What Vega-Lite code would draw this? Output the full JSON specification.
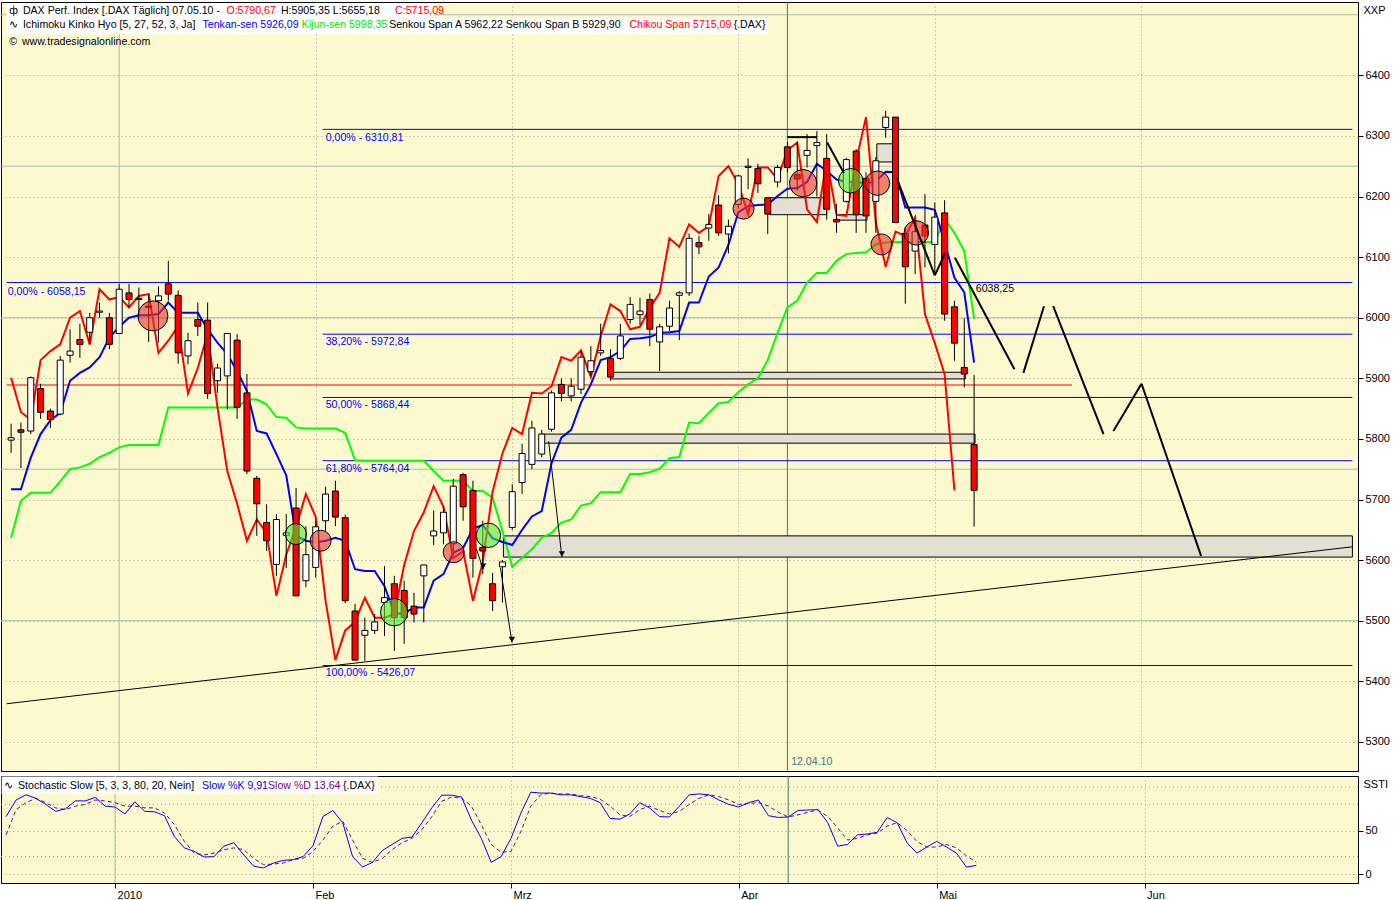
{
"$schema":"https://vega.github.io/schema/vega-lite/v6.json",
"background":"#FFFFFF",
"padding":{"left":0,"top":1,"right":0,"bottom":0},
"spacing":3,
"config":{
 "view":{"fill":"#FDF9CF","stroke":"#000000","strokeWidth":1},
 "text":{"font":"Liberation Sans","fontSize":10.6},
 "axis":{"labelFont":"Liberation Sans","labelFontSize":11,"labelColor":"#000000","tickColor":"#000000","domain":false,"gridColor":"#A0A0A0","gridDash":[1,3],"titleFont":"Liberation Sans","titleFontSize":11,"titleFontWeight":"normal","titleColor":"#000000","minExtent":0,"labelFlush":false,"labelOverlap":false}
},
"datasets":{
 "candles":[
{"i":-11,"o":5798,"h":5825,"l":5777,"c":5802},{"i":-10,"o":5815,"h":5827,"l":5752,"c":5811},{"i":-9,"o":5813,"h":5903,"l":5808,"c":5901},{"i":-8,"o":5883,"h":5891,"l":5833,"c":5844},{"i":-7,"o":5846,"h":5850,"l":5818,"c":5832},{"i":-6,"o":5841,"h":5937,"l":5839,"c":5930},{"i":-5,"o":5938,"h":5981,"l":5926,"c":5945},{"i":-4,"o":5964,"h":5990,"l":5934,"c":5956},{"i":-3,"o":5976,"h":6008,"l":5956,"c":6000},{"i":-2,"o":6009,"h":6025,"l":6000,"c":6011},{"i":-1,"o":6000,"h":6008,"l":5948,"c":5956},
{"i":0,"o":5974,"h":6056,"l":5974,"c":6047},{"i":1,"o":6041,"h":6056,"l":6017,"c":6030},{"i":2,"o":6030,"h":6050,"l":6000,"c":6032},{"i":3,"o":6019,"h":6040,"l":5960,"c":6017},{"i":4,"o":6028,"h":6052,"l":5959,"c":6036},{"i":5,"o":6056,"h":6094,"l":6028,"c":6039},{"i":6,"o":6037,"h":6045,"l":5924,"c":5942},{"i":7,"o":5937,"h":5975,"l":5923,"c":5962},{"i":8,"o":5997,"h":6025,"l":5970,"c":5986},{"i":9,"o":5996,"h":6025,"l":5866,"c":5875},
{"i":10,"o":5896,"h":5924,"l":5876,"c":5917},{"i":11,"o":5904,"h":5974,"l":5849,"c":5974},{"i":12,"o":5963,"h":5973,"l":5833,"c":5852},{"i":13,"o":5876,"h":5907,"l":5742,"c":5747},{"i":14,"o":5735,"h":5739,"l":5640,"c":5693},{"i":15,"o":5662,"h":5692,"l":5615,"c":5632},{"i":16,"o":5593,"h":5676,"l":5574,"c":5667},{"i":17,"o":5641,"h":5676,"l":5587,"c":5645},{"i":18,"o":5686,"h":5719,"l":5541,"c":5541},{"i":19,"o":5566,"h":5656,"l":5555,"c":5609},
{"i":20,"o":5588,"h":5665,"l":5571,"c":5655},{"i":21,"o":5665,"h":5721,"l":5648,"c":5709},{"i":22,"o":5714,"h":5731,"l":5656,"c":5671},{"i":23,"o":5670,"h":5675,"l":5529,"c":5533},{"i":24,"o":5516,"h":5528,"l":5434,"c":5435},{"i":25,"o":5476,"h":5505,"l":5434,"c":5484},{"i":26,"o":5484,"h":5511,"l":5478,"c":5498},{"i":27,"o":5530,"h":5590,"l":5475,"c":5538},{"i":28,"o":5561,"h":5574,"l":5450,"c":5505},{"i":29,"o":5550,"h":5566,"l":5462,"c":5505},
{"i":30,"o":5524,"h":5546,"l":5497,"c":5511},{"i":31,"o":5574,"h":5592,"l":5497,"c":5592},{"i":32,"o":5640,"h":5682,"l":5625,"c":5648},{"i":33,"o":5645,"h":5689,"l":5626,"c":5679},{"i":34,"o":5627,"h":5734,"l":5615,"c":5722},{"i":35,"o":5741,"h":5744,"l":5665,"c":5688},{"i":36,"o":5715,"h":5731,"l":5571,"c":5603},{"i":37,"o":5621,"h":5665,"l":5577,"c":5615},{"i":38,"o":5561,"h":5579,"l":5516,"c":5533},{"i":39,"o":5589,"h":5600,"l":5530,"c":5597},
{"i":40,"o":5654,"h":5725,"l":5650,"c":5713},{"i":41,"o":5728,"h":5792,"l":5709,"c":5776},{"i":42,"o":5758,"h":5830,"l":5750,"c":5818},{"i":43,"o":5775,"h":5815,"l":5770,"c":5808},{"i":44,"o":5816,"h":5880,"l":5812,"c":5876},{"i":45,"o":5890,"h":5900,"l":5862,"c":5875},{"i":46,"o":5871,"h":5900,"l":5862,"c":5887},{"i":47,"o":5882,"h":5945,"l":5874,"c":5935},{"i":48,"o":5911,"h":5953,"l":5904,"c":5929},{"i":49,"o":5942,"h":5990,"l":5937,"c":5946},
{"i":50,"o":5933,"h":5948,"l":5896,"c":5902},{"i":51,"o":5933,"h":5990,"l":5930,"c":5970},{"i":52,"o":5997,"h":6034,"l":5990,"c":6022},{"i":53,"o":6005,"h":6033,"l":5988,"c":6011},{"i":54,"o":6030,"h":6040,"l":5953,"c":5981},{"i":55,"o":5960,"h":5990,"l":5912,"c":5985},{"i":56,"o":5986,"h":6028,"l":5978,"c":6016},{"i":57,"o":6037,"h":6044,"l":5963,"c":6041},{"i":58,"o":6041,"h":6139,"l":6036,"c":6131},{"i":59,"o":6124,"h":6135,"l":6105,"c":6117},
{"i":60,"o":6148,"h":6171,"l":6127,"c":6154},{"i":61,"o":6186,"h":6202,"l":6135,"c":6140},{"i":62,"o":6138,"h":6162,"l":6106,"c":6151},{"i":63,"o":6187,"h":6236,"l":6180,"c":6234},{"i":64,"o":6248,"h":6263,"l":6212,"c":6250},{"i":65,"o":6246,"h":6254,"l":6206,"c":6221},{"i":66,"o":6198,"h":6198,"l":6138,"c":6171},{"i":67,"o":6224,"h":6252,"l":6215,"c":6248},{"i":68,"o":6282,"h":6290,"l":6240,"c":6248},{"i":69,"o":6236,"h":6290,"l":6210,"c":6229},
{"i":70,"o":6268,"h":6303,"l":6248,"c":6276},{"i":71,"o":6284,"h":6308,"l":6200,"c":6289},{"i":72,"o":6263,"h":6303,"l":6162,"c":6179},{"i":73,"o":6162,"h":6188,"l":6140,"c":6158},{"i":74,"o":6192,"h":6264,"l":6190,"c":6261},{"i":75,"o":6275,"h":6278,"l":6140,"c":6170},{"i":76,"o":6230,"h":6240,"l":6140,"c":6168},{"i":77,"o":6192,"h":6265,"l":6140,"c":6259},{"i":78,"o":6314,"h":6341,"l":6297,"c":6331},{"i":79,"o":6331,"h":6331,"l":6157,"c":6157},
{"i":80,"o":6139,"h":6150,"l":6023,"c":6084},{"i":81,"o":6110,"h":6160,"l":6072,"c":6142},{"i":82,"o":6153,"h":6204,"l":6083,"c":6135},{"i":83,"o":6121,"h":6190,"l":6072,"c":6166},{"i":84,"o":6173,"h":6194,"l":5995,"c":6006},{"i":85,"o":6018,"h":6028,"l":5929,"c":5958},{"i":86,"o":5918,"h":5999,"l":5885,"c":5907},{"i":87,"o":5790.67,"h":5905.35,"l":5655.18,"c":5715.09}
 ],
 "ichimoku":[
{"i":-11,"t":5717,"k":5637,"ch":5901},{"i":-10,"t":5717,"k":5698,"ch":5844},{"i":-9,"t":5769,"k":5711,"ch":5832},{"i":-8,"t":5808,"k":5711,"ch":5930},{"i":-7,"t":5831,"k":5711,"ch":5945},{"i":-6,"t":5843,"k":5730,"ch":5956},{"i":-5,"t":5896,"k":5750,"ch":6000},{"i":-4,"t":5909,"k":5753,"ch":6011},{"i":-3,"t":5918,"k":5759,"ch":5956},{"i":-2,"t":5935,"k":5770,"ch":6047},{"i":-1,"t":5967,"k":5777,"ch":6030},
{"i":0,"t":5985,"k":5786,"ch":6034},{"i":1,"t":6000,"k":5790,"ch":6017},{"i":2,"t":6004,"k":5790,"ch":6036},{"i":3,"t":6004,"k":5790,"ch":6039},{"i":4,"t":6006,"k":5790,"ch":5942},{"i":5,"t":6025,"k":5852,"ch":5962},{"i":6,"t":6008,"k":5852,"ch":5986},{"i":7,"t":6008,"k":5852,"ch":5875},{"i":8,"t":6008,"k":5852,"ch":5917},{"i":9,"t":5981,"k":5852,"ch":5974},
{"i":10,"t":5959,"k":5852,"ch":5852},{"i":11,"t":5940,"k":5852,"ch":5747},{"i":12,"t":5912,"k":5852,"ch":5693},{"i":13,"t":5879,"k":5865,"ch":5632},{"i":14,"t":5813,"k":5865,"ch":5667},{"i":15,"t":5809,"k":5857,"ch":5645},{"i":16,"t":5775,"k":5836,"ch":5541},{"i":17,"t":5740,"k":5835,"ch":5609},{"i":18,"t":5640,"k":5819,"ch":5655},{"i":19,"t":5632,"k":5817,"ch":5709},
{"i":20,"t":5629,"k":5817,"ch":5671},{"i":21,"t":5632,"k":5817,"ch":5533},{"i":22,"t":5637,"k":5817,"ch":5435},{"i":23,"t":5632,"k":5810,"ch":5484},{"i":24,"t":5585,"k":5765,"ch":5498},{"i":25,"t":5582,"k":5764,"ch":5538},{"i":26,"t":5582,"k":5764,"ch":5505},{"i":27,"t":5557,"k":5764,"ch":5505},{"i":28,"t":5512,"k":5764,"ch":5511},{"i":29,"t":5512,"k":5764,"ch":5592},
{"i":30,"t":5522,"k":5764,"ch":5648},{"i":31,"t":5522,"k":5764,"ch":5679},{"i":32,"t":5566,"k":5747,"ch":5722},{"i":33,"t":5577,"k":5731,"ch":5688},{"i":34,"t":5612,"k":5731,"ch":5603},{"i":35,"t":5620,"k":5731,"ch":5615},{"i":36,"t":5652,"k":5714,"ch":5533},{"i":37,"t":5658,"k":5714,"ch":5597},{"i":38,"t":5636,"k":5703,"ch":5713},{"i":39,"t":5630,"k":5648,"ch":5776},
{"i":40,"t":5625,"k":5589,"ch":5818},{"i":41,"t":5650,"k":5604,"ch":5808},{"i":42,"t":5672,"k":5618,"ch":5876},{"i":43,"t":5681,"k":5637,"ch":5875},{"i":44,"t":5760,"k":5645,"ch":5887},{"i":45,"t":5802,"k":5662,"ch":5935},{"i":46,"t":5815,"k":5667,"ch":5929},{"i":47,"t":5860,"k":5690,"ch":5946},{"i":48,"t":5890,"k":5694,"ch":5902},{"i":49,"t":5930,"k":5712,"ch":5970},
{"i":50,"t":5935,"k":5712,"ch":6022},{"i":51,"t":5945,"k":5712,"ch":6011},{"i":52,"t":5965,"k":5742,"ch":5981},{"i":53,"t":5966,"k":5742,"ch":5985},{"i":54,"t":5968,"k":5745,"ch":6016},{"i":55,"t":5975,"k":5751,"ch":6041},{"i":56,"t":5976,"k":5768,"ch":6131},{"i":57,"t":5978,"k":5770,"ch":6117},{"i":58,"t":6025,"k":5827,"ch":6154},{"i":59,"t":6025,"k":5826,"ch":6140},
{"i":60,"t":6068,"k":5843,"ch":6151},{"i":61,"t":6083,"k":5859,"ch":6234},{"i":62,"t":6120,"k":5861,"ch":6250},{"i":63,"t":6174,"k":5877,"ch":6221},{"i":64,"t":6184,"k":5890,"ch":6171},{"i":65,"t":6186,"k":5900,"ch":6248},{"i":66,"t":6187,"k":5930,"ch":6248},{"i":67,"t":6201,"k":5975,"ch":6229},{"i":68,"t":6213,"k":6017,"ch":6276},{"i":69,"t":6214,"k":6028,"ch":6289},
{"i":70,"t":6224,"k":6058,"ch":6179},{"i":71,"t":6254,"k":6074,"ch":6158},{"i":72,"t":6242,"k":6074,"ch":6261},{"i":73,"t":6228,"k":6094,"ch":6170},{"i":74,"t":6224,"k":6105,"ch":6168},{"i":75,"t":6224,"k":6107,"ch":6259},{"i":76,"t":6222,"k":6108,"ch":6331},{"i":77,"t":6225,"k":6121,"ch":6157},{"i":78,"t":6241,"k":6124,"ch":6084},{"i":79,"t":6240,"k":6125,"ch":6142},
{"i":80,"t":6182,"k":6125,"ch":6135},{"i":81,"t":6182,"k":6125,"ch":6166},{"i":82,"t":6182,"k":6125,"ch":6006},{"i":83,"t":6178,"k":6125,"ch":5958},{"i":84,"t":6125,"k":6163,"ch":5907},{"i":85,"t":6066,"k":6140,"ch":5715},{"i":86,"t":6042,"k":6110,"ch":null},{"i":87,"t":5926,"k":5998,"ch":null}
 ],
 "stoch":[
{"i":-11,"k":66,"d":45},{"i":-10,"k":85,"d":74},{"i":-9,"k":91,"d":82},{"i":-8,"k":87,"d":87},{"i":-7,"k":80,"d":82},{"i":-6,"k":72,"d":76},{"i":-5,"k":75,"d":74},{"i":-4,"k":84,"d":78},{"i":-3,"k":84,"d":80},{"i":-2,"k":88,"d":85},{"i":-1,"k":78,"d":84},
{"i":0,"k":77,"d":82},{"i":1,"k":69,"d":78},{"i":2,"k":83,"d":78},{"i":3,"k":72,"d":76},{"i":4,"k":71.5,"d":76},{"i":5,"k":67,"d":70},{"i":6,"k":43,"d":56.7},{"i":7,"k":30,"d":37.5},{"i":8,"k":26,"d":24},{"i":9,"k":19.5,"d":22},
{"i":10,"k":20,"d":24},{"i":11,"k":32,"d":28},{"i":12,"k":36,"d":30},{"i":13,"k":22,"d":28},{"i":14,"k":9,"d":18},{"i":15,"k":7,"d":10.7},{"i":16,"k":12.6,"d":11.5},{"i":17,"k":15.7,"d":12.6},{"i":18,"k":16.5,"d":16.5},{"i":19,"k":20,"d":18},
{"i":20,"k":32.6,"d":26},{"i":21,"k":66,"d":39},{"i":22,"k":73,"d":55},{"i":23,"k":59,"d":60.5},{"i":24,"k":20,"d":39},{"i":25,"k":8,"d":18},{"i":26,"k":13.4,"d":13.4},{"i":27,"k":27,"d":18},{"i":28,"k":34,"d":28},{"i":29,"k":41,"d":36},
{"i":30,"k":42.5,"d":41},{"i":31,"k":59,"d":51},{"i":32,"k":76,"d":66},{"i":33,"k":90.5,"d":83.5},{"i":34,"k":90.5,"d":88.5},{"i":35,"k":88.5,"d":87},{"i":36,"k":62,"d":78},{"i":37,"k":41,"d":56.7},{"i":38,"k":13.4,"d":34},{"i":39,"k":20,"d":25},
{"i":40,"k":41,"d":26},{"i":41,"k":70,"d":49},{"i":42,"k":94,"d":78},{"i":43,"k":93,"d":91},{"i":44,"k":93,"d":93},{"i":45,"k":91,"d":92},{"i":46,"k":91,"d":92},{"i":47,"k":89,"d":90},{"i":48,"k":87,"d":89},{"i":49,"k":82,"d":86},
{"i":50,"k":64,"d":78},{"i":51,"k":63,"d":68},{"i":52,"k":69,"d":66},{"i":53,"k":82,"d":74},{"i":54,"k":76,"d":78},{"i":55,"k":66,"d":73},{"i":56,"k":65.5,"d":69},{"i":57,"k":78,"d":72},{"i":58,"k":91,"d":80},{"i":59,"k":92,"d":87},
{"i":60,"k":91,"d":91},{"i":61,"k":85,"d":89},{"i":62,"k":80,"d":85},{"i":63,"k":77,"d":80},{"i":64,"k":82,"d":81},{"i":65,"k":85,"d":82},{"i":66,"k":67,"d":78},{"i":67,"k":65,"d":71},{"i":68,"k":65.5,"d":65.5},{"i":69,"k":73,"d":68},
{"i":70,"k":73.5,"d":71},{"i":71,"k":74,"d":73.5},{"i":72,"k":59,"d":66},{"i":73,"k":32,"d":53},{"i":74,"k":34,"d":39},{"i":75,"k":45,"d":41},{"i":76,"k":46,"d":45},{"i":77,"k":48,"d":47},{"i":78,"k":65,"d":55},{"i":79,"k":59,"d":59},
{"i":80,"k":36,"d":50},{"i":81,"k":24,"d":37.5},{"i":82,"k":31,"d":31},{"i":83,"k":37.5,"d":31},{"i":84,"k":31,"d":34},{"i":85,"k":24,"d":30},{"i":86,"k":8,"d":21},{"i":87,"k":9.91,"d":13.64}
 ],
 "levels":[
{"p":6058.15,"i0":-11.45,"i1":125.5,"kind":"fib"},{"p":6310.81,"i0":20.7,"i1":125.5,"kind":"fib"},{"p":5972.84,"i0":20.7,"i1":125.5,"kind":"fib"},{"p":5868.44,"i0":20.7,"i1":125.5,"kind":"fib"},{"p":5764.04,"i0":20.7,"i1":125.5,"kind":"fib"},{"p":5426.07,"i0":20.7,"i1":125.5,"kind":"fib"},{"p":5889,"i0":-11.45,"i1":96.97,"kind":"signal"}
 ],
 "zones":[
{"i0":50.0,"i1":86.1,"p0":5910,"p1":5899},{"i0":43.0,"i1":87.1,"p0":5808,"p1":5793},{"i0":39.1,"i1":125.5,"p0":5640,"p1":5605},{"i0":66.2,"i1":72.0,"p0":6198,"p1":6170},{"i0":77.1,"i1":79.1,"p0":6287,"p1":6257},{"i0":73.0,"i1":76.1,"p0":6170,"p1":6161}
 ],
 "circles":[
{"i":3.43,"p":6003,"kind":"sell","mag":"xl"},{"i":17.98,"p":5643,"kind":"buy","mag":"s"},{"i":20.5,"p":5632,"kind":"sell","mag":"s"},{"i":27.98,"p":5514,"kind":"buy","mag":"l"},{"i":34.04,"p":5613,"kind":"sell","mag":"s"},{"i":37.58,"p":5641,"kind":"buy","mag":"m"},{"i":63.54,"p":6180,"kind":"sell","mag":"s"},{"i":69.6,"p":6222,"kind":"sell","mag":"l"},{"i":74.44,"p":6226,"kind":"buy","mag":"m"},{"i":77.17,"p":6222,"kind":"sell","mag":"m"},{"i":77.58,"p":6121,"kind":"sell","mag":"s"},{"i":81.11,"p":6140,"kind":"sell","mag":"m"}
 ],
 "segs":[
{"i0":72.05,"p0":6289,"i1":73.74,"p1":6239,"kind":"projection"},{"i0":79.12,"p0":6230,"i1":83.0,"p1":6070,"kind":"projection"},{"i0":83.0,"p0":6070,"i1":84.07,"p1":6107,"kind":"projection"},{"i0":85.05,"p0":6099,"i1":91.11,"p1":5915,"kind":"projection"},{"i0":92.02,"p0":5909,"i1":94.11,"p1":6019,"kind":"projection"},{"i0":95.05,"p0":6019,"i1":100.17,"p1":5808,"kind":"projection"},{"i0":101.18,"p0":5813,"i1":104.04,"p1":5891,"kind":"projection"},{"i0":104.04,"p0":5891,"i1":110.1,"p1":5607,"kind":"projection"},{"i0":68.0,"p0":6298,"i1":71.0,"p1":6298,"kind":"projection"},
{"i0":-11.45,"p0":5363,"i1":125.5,"p1":5622,"kind":"trend"},
{"i0":43.7,"p0":5796,"i1":45.05,"p1":5605,"kind":"arrow"},{"i0":38.8,"p0":5587,"i1":39.97,"p1":5464,"kind":"arrow"},{"i0":36.36,"p0":5618,"i1":37.04,"p1":5585,"kind":"arrow"}
 ],
 "heads":[{"i":45.05,"p":5610},{"i":39.97,"p":5469},{"i":37.04,"p":5590}],
 "boxes":[{"i0":-11.45,"i1":32.0,"p0":6519,"p1":6494.6},{"i0":-11.45,"i1":66.0,"p0":6494.6,"p1":6468}],
 "notes":[
{"i":-11.2,"p":6506,"text":"ф","role":"label"},{"i":-9.8,"p":6506,"text":"DAX Perf. Index [.DAX  Täglich] 07.05.10 -","role":"label"},{"i":10.91,"p":6506,"text":"O:5790,67","role":"quote"},{"i":16.46,"p":6506,"text":"H:5905,35 L:5655,18","role":"label"},{"i":28.08,"p":6506,"text":"C:5715,09","role":"quote"},
{"i":-11.2,"p":6483,"text":"∿","role":"label"},{"i":-9.8,"p":6483,"text":"Ichimoku Kinko Hyo [5, 27, 52, 3, Ja]","role":"label"},{"i":8.48,"p":6483,"text":"Tenkan-sen 5926,09","role":"tenkan"},{"i":18.59,"p":6483,"text":"Kijun-sen 5998,35","role":"kijun"},{"i":27.47,"p":6483,"text":"Senkou Span A 5962,22 Senkou Span B 5929,90","role":"label"},{"i":51.92,"p":6483,"text":"Chikou Span 5715,09","role":"quote"},{"i":62.53,"p":6483,"text":"{.DAX}","role":"label"},
{"i":-11.2,"p":6455,"text":"©","role":"label"},{"i":-9.9,"p":6455,"text":"www.tradesignalonline.com","role":"label"},
{"i":-11.35,"p":6042.5,"text":"0,00% - 6058,15","role":"fib"},{"i":21.01,"p":6296.5,"text":"0,00% - 6310,81","role":"fib"},{"i":21.01,"p":5960,"text":"38,20% - 5972,84","role":"fib"},{"i":21.01,"p":5856,"text":"50,00% - 5868,44","role":"fib"},{"i":21.01,"p":5750.4,"text":"61,80% - 5764,04","role":"fib"},{"i":21.01,"p":5413.8,"text":"100,00% - 5426,07","role":"fib"},
{"i":87.17,"p":6047.4,"text":"6038,25","role":"label"},{"i":68.38,"p":5267,"text":"12.04.10","role":"date"}
 ],
 "snotes":[
{"i":-11.2,"v":100.8,"text":"∿","role":"label"},{"i":-9.8,"v":100.8,"text":"Stochastic Slow [5, 3, 3, 80, 20, Nein]","role":"label"},{"i":8.79,"v":100.8,"text":"Slow %K 9,91","role":"slowk"},{"i":15.45,"v":100.8,"text":"Slow %D 13,64","role":"slowd"},{"i":23.03,"v":100.8,"text":"{.DAX}","role":"label"}
 ]
},
"vconcat":[
{
 "width":1357,"height":769,
 "resolve":{"scale":{"color":"independent","fill":"independent","size":"independent"}},
 "layer":[
  {"data":{"values":[{"p":5500},{"p":5750},{"p":6000},{"p":6250},{"p":6500}]},
   "mark":{"type":"rule","color":"#A9BEA9","strokeWidth":1},
   "encoding":{"y":{"field":"p","type":"quantitative","scale":{"domain":[5252,6521],"nice":false,"zero":false},
     "axis":{"orient":"right","values":[5300,5350,5400,5450,5500,5550,5600,5650,5700,5750,5800,5850,5900,5950,6000,6050,6100,6150,6200,6250,6300,6350,6400,6450],"format":"d","labelOverlap":false,"grid":true,"tickSize":5,"labelPadding":2,"title":"XXP","titleAngle":0,"titleAlign":"left","titleBaseline":"middle","titleX":5,"titleY":8}}}},
  {"data":{"name":"boxes"},"mark":{"type":"rect","fill":"#FFFFFF"},
   "encoding":{"x":{"field":"i0","type":"quantitative","scale":{"domain":[-11.52,125.56],"nice":false,"zero":false},"title":null,
     "axis":{"orient":"bottom","values":[20,40,63,83,104],"grid":true,"labels":false,"ticks":false,"domain":false,"title":null}},
    "x2":{"field":"i1"},
    "y":{"field":"p0","type":"quantitative","scale":{"domain":[5252,6521],"nice":false,"zero":false}},"y2":{"field":"p1"}}},
  {"data":{"values":[{"i":0}]},"mark":{"type":"rule","color":"#A9BEA9","strokeWidth":1},
   "encoding":{"x":{"field":"i","type":"quantitative","scale":{"domain":[-11.52,125.56],"nice":false,"zero":false},"title":null},
     "y":{"datum":6468,"type":"quantitative","scale":{"domain":[5252,6521],"nice":false,"zero":false}},"y2":{"datum":5252}}},
  {"data":{"values":[{"i":68}]},"mark":{"type":"rule","color":"#3C7C7C","strokeWidth":1},
   "encoding":{"x":{"field":"i","type":"quantitative","scale":{"domain":[-11.52,125.56],"nice":false,"zero":false},"title":null}}},
  {"data":{"name":"zones"},"mark":{"type":"rect","fill":"#E4DFD3","stroke":"#000000","strokeWidth":1},
   "encoding":{"x":{"field":"i0","type":"quantitative","scale":{"domain":[-11.52,125.56],"nice":false,"zero":false},"title":null},"x2":{"field":"i1"},
    "y":{"field":"p0","type":"quantitative","scale":{"domain":[5252,6521],"nice":false,"zero":false}},"y2":{"field":"p1"}}},
  {"data":{"name":"levels"},"mark":{"type":"rule","strokeWidth":1},
   "encoding":{"x":{"field":"i0","type":"quantitative","scale":{"domain":[-11.52,125.56],"nice":false,"zero":false},"title":null},"x2":{"field":"i1"},
    "y":{"field":"p","type":"quantitative","scale":{"domain":[5252,6521],"nice":false,"zero":false}},
    "color":{"field":"kind","type":"nominal","scale":{"domain":["fib","signal"],"range":["#0000FF","#FF0000"]},"legend":null}}},
  {"data":{"name":"segs"},"transform":[{"filter":"datum.kind=='trend'"}],"mark":{"type":"rule","color":"#000000","strokeWidth":1},
   "encoding":{"x":{"field":"i0","type":"quantitative","scale":{"domain":[-11.52,125.56],"nice":false,"zero":false},"title":null},"x2":{"field":"i1"},
    "y":{"field":"p0","type":"quantitative","scale":{"domain":[5252,6521],"nice":false,"zero":false}},"y2":{"field":"p1"}}},
  {"data":{"name":"ichimoku"},"mark":{"type":"line","color":"#00FF00","strokeWidth":2},
   "encoding":{"x":{"field":"i","type":"quantitative","scale":{"domain":[-11.52,125.56],"nice":false,"zero":false},"title":null},
    "y":{"field":"k","type":"quantitative","scale":{"domain":[5252,6521],"nice":false,"zero":false}}}},
  {"data":{"name":"ichimoku"},"mark":{"type":"line","color":"#0000FF","strokeWidth":2},
   "encoding":{"x":{"field":"i","type":"quantitative","scale":{"domain":[-11.52,125.56],"nice":false,"zero":false},"title":null},
    "y":{"field":"t","type":"quantitative","scale":{"domain":[5252,6521],"nice":false,"zero":false}}}},
  {"data":{"name":"ichimoku"},"transform":[{"filter":"datum.ch != null"}],"mark":{"type":"line","color":"#FF0000","strokeWidth":2},
   "encoding":{"x":{"field":"i","type":"quantitative","scale":{"domain":[-11.52,125.56],"nice":false,"zero":false},"title":null},
    "y":{"field":"ch","type":"quantitative","scale":{"domain":[5252,6521],"nice":false,"zero":false}}}},
  {"data":{"name":"candles"},"mark":{"type":"rule","color":"#000000","strokeWidth":1},
   "encoding":{"x":{"field":"i","type":"quantitative","scale":{"domain":[-11.52,125.56],"nice":false,"zero":false},"title":null},
    "y":{"field":"l","type":"quantitative","scale":{"domain":[5252,6521],"nice":false,"zero":false}},"y2":{"field":"h"}}},
  {"data":{"name":"candles"},"mark":{"type":"bar","size":6,"stroke":"#000000","strokeWidth":1},
   "encoding":{"x":{"field":"i","type":"quantitative","scale":{"domain":[-11.52,125.56],"nice":false,"zero":false},"title":null},
    "y":{"field":"o","type":"quantitative","scale":{"domain":[5252,6521],"nice":false,"zero":false}},"y2":{"field":"c"},
    "fill":{"condition":{"test":"datum.c >= datum.o","value":"#FFFFFF"},"value":"#FF0000"}}},
  {"data":{"name":"circles"},"mark":{"type":"circle","stroke":"#000000","strokeWidth":1,"fillOpacity":0.6,"strokeOpacity":1,"opacity":1},
   "encoding":{"x":{"field":"i","type":"quantitative","scale":{"domain":[-11.52,125.56],"nice":false,"zero":false},"title":null},
    "y":{"field":"p","type":"quantitative","scale":{"domain":[5252,6521],"nice":false,"zero":false}},
    "fill":{"field":"kind","type":"nominal","scale":{"domain":["sell","buy"],"range":["#E8302A","#50E830"]},"legend":null},
    "size":{"field":"mag","type":"ordinal","scale":{"domain":["s","m","l","xl"],"range":[441,900,1296,1936]},"legend":null}}},
  {"data":{"name":"segs"},"transform":[{"filter":"datum.kind=='projection'"}],"mark":{"type":"rule","color":"#000000","strokeWidth":2},
   "encoding":{"x":{"field":"i0","type":"quantitative","scale":{"domain":[-11.52,125.56],"nice":false,"zero":false},"title":null},"x2":{"field":"i1"},
    "y":{"field":"p0","type":"quantitative","scale":{"domain":[5252,6521],"nice":false,"zero":false}},"y2":{"field":"p1"}}},
  {"data":{"name":"segs"},"transform":[{"filter":"datum.kind=='arrow'"}],"mark":{"type":"rule","color":"#000000","strokeWidth":1},
   "encoding":{"x":{"field":"i0","type":"quantitative","scale":{"domain":[-11.52,125.56],"nice":false,"zero":false},"title":null},"x2":{"field":"i1"},
    "y":{"field":"p0","type":"quantitative","scale":{"domain":[5252,6521],"nice":false,"zero":false}},"y2":{"field":"p1"}}},
  {"data":{"name":"heads"},"mark":{"type":"point","shape":"triangle-down","filled":true,"color":"#000000","size":40,"opacity":1},
   "encoding":{"x":{"field":"i","type":"quantitative","scale":{"domain":[-11.52,125.56],"nice":false,"zero":false},"title":null},
    "y":{"field":"p","type":"quantitative","scale":{"domain":[5252,6521],"nice":false,"zero":false}}}},
  {"data":{"name":"notes"},"mark":{"type":"text","align":"left","baseline":"middle","font":"Liberation Sans","fontSize":10.6},
   "encoding":{"x":{"field":"i","type":"quantitative","scale":{"domain":[-11.52,125.56],"nice":false,"zero":false},"title":null},
    "y":{"field":"p","type":"quantitative","scale":{"domain":[5252,6521],"nice":false,"zero":false}},
    "text":{"field":"text"},
    "color":{"field":"role","type":"nominal","scale":{"domain":["label","quote","tenkan","kijun","fib","date"],"range":["#000000","#FF0000","#0000FF","#00E600","#0000FF","#3C7C7C"]},"legend":null}}}
 ]
},
{
 "width":1357,"height":107,
 "resolve":{"scale":{"color":"independent"}},
 "layer":[
  {"data":{"values":[{"v":20},{"v":80},{"v":100}]},"mark":{"type":"rule","color":"#A0A0A0","strokeDash":[1,3]},
   "encoding":{"y":{"field":"v","type":"quantitative","scale":{"domain":[-10.3,112.6],"nice":false,"zero":false},
     "axis":{"orient":"right","values":[0,50],"format":"d","grid":true,"tickSize":5,"labelPadding":2,"title":"SSTI","titleAngle":0,"titleAlign":"left","titleBaseline":"middle","titleX":5,"titleY":8}}}},
  {"data":{"values":[{"i":0}]},"mark":{"type":"rule","color":"#A9BEA9","strokeWidth":1},
   "encoding":{"x":{"field":"i","type":"quantitative","scale":{"domain":[-11.52,125.56],"nice":false,"zero":false},"title":null,
     "axis":{"orient":"bottom","values":[0,20,40,63,83,104],"grid":true,"tickSize":5,"labelPadding":1,"labelAlign":"left","labelOffset":2,"labelBaseline":"top","title":null,
      "labelExpr":"datum.value==0?'2010':datum.value==20?'Feb':datum.value==40?'Mrz':datum.value==63?'Apr':datum.value==83?'Mai':'Jun'"}}}},
  {"data":{"values":[{"i":68}]},"mark":{"type":"rule","color":"#3C7C7C","strokeWidth":1},
   "encoding":{"x":{"field":"i","type":"quantitative","scale":{"domain":[-11.52,125.56],"nice":false,"zero":false},"title":null}}},
  {"data":{"values":[{"i0":-11.45,"i1":26.57,"v0":112,"v1":92}]},"mark":{"type":"rect","fill":"#FFFFFF"},
   "encoding":{"x":{"field":"i0","type":"quantitative","scale":{"domain":[-11.52,125.56],"nice":false,"zero":false},"title":null},"x2":{"field":"i1"},
    "y":{"field":"v0","type":"quantitative","scale":{"domain":[-10.3,112.6],"nice":false,"zero":false}},"y2":{"field":"v1"}}},
  {"data":{"name":"stoch"},"mark":{"type":"line","color":"#800080","strokeWidth":1,"strokeDash":[4,3]},
   "encoding":{"x":{"field":"i","type":"quantitative","scale":{"domain":[-11.52,125.56],"nice":false,"zero":false},"title":null},
    "y":{"field":"d","type":"quantitative","scale":{"domain":[-10.3,112.6],"nice":false,"zero":false}}}},
  {"data":{"name":"stoch"},"mark":{"type":"line","color":"#0000FF","strokeWidth":1},
   "encoding":{"x":{"field":"i","type":"quantitative","scale":{"domain":[-11.52,125.56],"nice":false,"zero":false},"title":null},
    "y":{"field":"k","type":"quantitative","scale":{"domain":[-10.3,112.6],"nice":false,"zero":false}}}},
  {"data":{"name":"snotes"},"mark":{"type":"text","align":"left","baseline":"middle","font":"Liberation Sans","fontSize":10.6},
   "encoding":{"x":{"field":"i","type":"quantitative","scale":{"domain":[-11.52,125.56],"nice":false,"zero":false},"title":null},
    "y":{"field":"v","type":"quantitative","scale":{"domain":[-10.3,112.6],"nice":false,"zero":false}},
    "text":{"field":"text"},
    "color":{"field":"role","type":"nominal","scale":{"domain":["label","slowk","slowd"],"range":["#000000","#0000FF","#800080"]},"legend":null}}}
 ]
}
]
}
